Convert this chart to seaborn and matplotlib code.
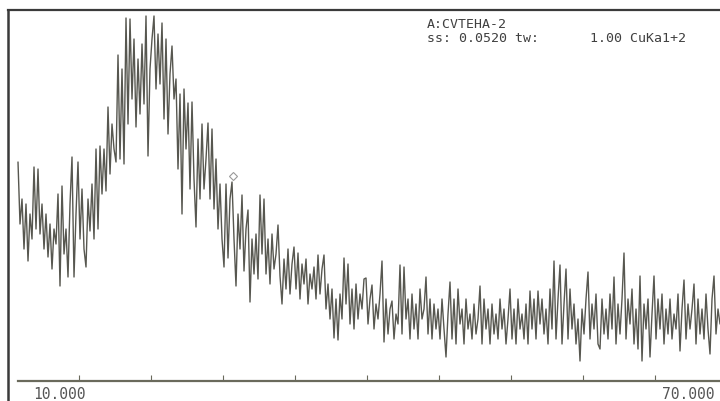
import numpy as np
import pandas as pd
import matplotlib
matplotlib.use("Agg")
import matplotlib.pyplot as plt
import seaborn as sns

# ---- data ----
scan_start = 10.917   # 2-theta of first sample, degrees
scan_end = 69.417     # 2-theta of last sample, degrees
intensity = [
    219, 157, 182, 132, 177, 120, 167,
    142, 214, 152, 212, 147, 177,
    132, 167, 124, 157, 112, 152, 137,
    187, 95, 195, 127,
    152, 104, 177, 224, 104, 167,
    219, 142, 192, 132, 114, 182,
    150, 197, 142, 232, 152, 235,
    187, 232, 190, 274, 207, 257,
    232, 219, 326, 222, 312, 217,
    363, 257, 362, 282, 342, 254,
    322, 267, 337, 277, 365, 225,
    312, 342, 365, 292, 347, 297,
    358, 262, 342, 247, 307, 335,
    282, 302, 212, 287, 167, 292,
    232, 278, 192, 279, 202, 154,
    242, 182, 257, 192, 222, 258,
    182, 252, 172, 222, 152, 197,
    142, 114, 197, 123, 182, 199,
    142, 95, 167, 132, 186, 110,
    152, 171, 79, 142, 107, 147,
    102, 186, 127, 182, 107, 142,
    97, 147, 112, 127, 156, 105,
    77, 122, 92, 132, 87, 117,
    134, 92, 128, 82, 117, 97,
    122, 77, 107, 92, 114, 82,
    126, 87, 112, 126, 72, 97,
    62, 92, 43, 82, 41, 87,
    62, 123, 77, 117, 57, 92,
    52, 97, 62, 87, 72, 102,
    103, 57, 82, 96, 52, 77,
    62, 87, 120, 39, 82, 47,
    72, 80, 42, 67, 57, 116,
    47, 114, 62, 82, 42, 87,
    52, 77, 42, 92, 62, 72,
    104, 47, 82, 42, 77, 52,
    72, 42, 82, 52, 24, 67,
    99, 42, 82, 37, 92, 57,
    72, 37, 82, 52, 67, 42,
    77, 47, 62, 95, 37, 82,
    52, 72, 37, 77, 47, 67,
    42, 82, 52, 72, 37, 62,
    92, 42, 72, 37, 82, 52,
    67, 42, 77, 37, 90, 52,
    82, 42, 90, 57, 82, 47,
    72, 37, 92, 52, 120, 42,
    82, 116, 37, 77, 112, 42,
    92, 52, 77, 37, 62, 20,
    72, 47, 82, 109, 42, 77,
    52, 87, 37, 32, 82, 47,
    72, 42, 87, 52, 104, 37,
    77, 47, 82, 128, 42, 82,
    57, 92, 37, 72, 32, 105,
    20, 77, 52, 82, 24, 67,
    105, 42, 82, 52, 87, 37,
    72, 47, 82, 42, 67, 52,
    87, 30, 72, 101, 42, 77,
    52, 72, 97, 37, 82, 47,
    72, 42, 87, 52, 27, 82,
    105, 47, 72, 57,
]
two_theta = np.linspace(scan_start, scan_end, len(intensity))
marker_x = [28.83]
marker_y = [205]
tick_positions = [16, 22, 28, 34, 40, 46, 52, 58, 64]
start_label = "10.000"
end_label = "70.000"
header_line1 = "A:CVTEHA-2"
header_line2a = "ss: 0.0520 tw:"
header_line2b = "1.00 CuKa1+2"

df = pd.DataFrame({"two_theta": two_theta, "intensity": intensity})

# ---- style ----
sns.set_theme(style="white")
plt.rcParams["font.family"] = ["DejaVu Sans Mono", "DejaVu Sans"]

W, H = 720, 402
fig = plt.figure(figsize=(7.2, 4.02), dpi=100)
fig.patch.set_facecolor("white")
ax = fig.add_axes([8 / W, 0, 1 - 8 / W, (H - 11) / H])
ax.set_facecolor("white")

sns.lineplot(data=df, x="two_theta", y="intensity", ax=ax,
             estimator=None, sort=False, color="#4e4e46", linewidth=1.0,
             alpha=0.95)
ax.plot(marker_x, marker_y, linestyle="none", marker="D", markersize=4,
        markerfacecolor="white", markeredgecolor="#999999", markeredgewidth=0.8)

ax.set_xlim(10 + 1 / 12, 10 + 713 / 12)
ax.set_ylim(-20, 371)
ax.set_xlabel("")
ax.set_ylabel("")

# frame
ax.spines["right"].set_visible(False)
ax.spines["top"].set_color("#3a3a3a")
ax.spines["top"].set_linewidth(1.6)
ax.spines["left"].set_color("#3a3a3a")
ax.spines["left"].set_linewidth(1.8)
ax.spines["bottom"].set_position(("data", 0))
ax.spines["bottom"].set_bounds(scan_start, 70)
ax.spines["bottom"].set_color("#6a6a5c")
ax.spines["bottom"].set_linewidth(1.6)

ax.set_yticks([])
ax.set_xticks(tick_positions)
ax.set_xticklabels([])
ax.tick_params(axis="x", direction="in", length=4, width=0.8,
               color="#6a6a5c", bottom=True, top=False)

# labels at the ends of the 2-theta axis
fig.text(33 / W, 1 - 395 / H, start_label, fontsize=10.5, color="#555555",
         ha="left", va="center")
fig.text(662 / W, 1 - 395 / H, end_label, fontsize=10.5, color="#555555",
         ha="left", va="center")

# header text
fig.text(427 / W, 1 - 24 / H, header_line1, fontsize=9.5, color="#404040",
         ha="left", va="center")
fig.text(427 / W, 1 - 38 / H, header_line2a, fontsize=9.5, color="#404040",
         ha="left", va="center")
fig.text(590 / W, 1 - 38 / H, header_line2b, fontsize=9.5, color="#404040",
         ha="left", va="center")

fig.savefig("out.png", dpi=100, facecolor="white")
